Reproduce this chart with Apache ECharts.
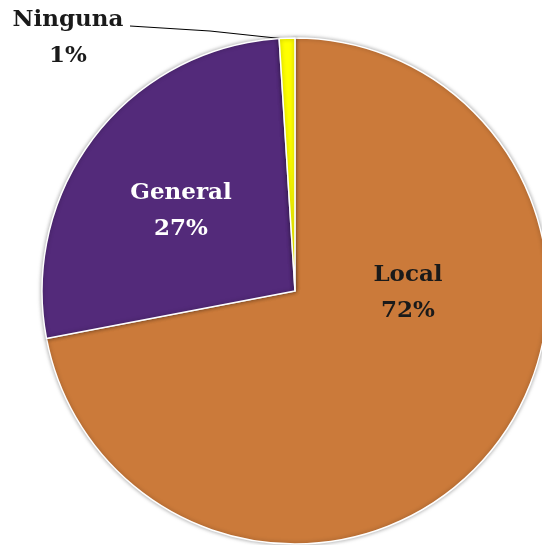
<!DOCTYPE html>
<html><head><meta charset="utf-8">
<script src="https://cdn.jsdelivr.net/npm/echarts@6/dist/echarts.min.js"></script>
<style>html,body{margin:0;padding:0;background:#fff}#c{width:542px;height:545px}</style>
</head><body><div id="c"></div>
<script>
const categories = ['Local', 'General', 'Ninguna'];
const values = [72, 27, 1];
const colors = ['#CB7A3A', '#532A7A', '#FFFF00'];
const labelColors = ['#1a1a1a', '#ffffff', '#1a1a1a'];

const chart = echarts.init(document.getElementById('c'));
const labelPos = [
  {x: 408, y: 293},
  {x: 181, y: 211},
  {x: 68, y: 38}
];
chart.setOption({
  animation: false,
  series: [{
    type: 'pie',
    center: [295, 291],
    radius: 253,
    startAngle: 90,
    clockwise: true,
    itemStyle: {borderColor: '#fff', borderWidth: 1.5, shadowBlur: 4, shadowColor: 'rgba(0,0,0,0.35)'},
    label: {
      show: true,
      formatter: p => p.name + '\n' + p.value + '%',
      fontFamily: 'DejaVu Serif',
      fontWeight: 'bold',
      fontSize: 23,
      lineHeight: 36,
      align: 'center'
    },
    labelLine: {show: false},
    labelLayout: function (params) {
      const p = labelPos[params.dataIndex];
      const r = {x: p.x, y: p.y, align: 'center', verticalAlign: 'middle'};
      if (params.dataIndex === 2) {
        r.labelLinePoints = [[130, 26], [210, 31], [285, 39]];
      }
      return r;
    },
    data: categories.map((c, i) => ({
      name: c, value: values[i],
      itemStyle: {color: colors[i]},
      label: {color: labelColors[i], position: i === 2 ? 'outside' : 'inside'},
      labelLine: i === 2 ? {show: true, length: 10, length2: 10, lineStyle: {color: '#000', width: 1.2}} : {show: false}
    }))
  }]
});
</script></body></html>
